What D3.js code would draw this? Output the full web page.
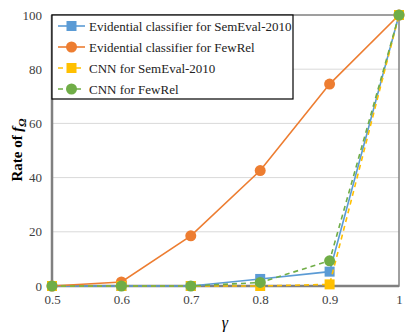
<!DOCTYPE html>
<html><head><meta charset="utf-8">
<script src="https://cdn.jsdelivr.net/npm/d3@7"></script>
<style>body{margin:0;background:#fff}svg{display:block}</style>
</head><body>
<svg id="c" width="415" height="334"></svg>
<script>
const gammas = [0.5, 0.6, 0.7, 0.8, 0.9, 1];
const evidSem = [0, 0, 0, 2.6, 5.3, 100];
const evidFew = [0, 1.5, 18.5, 42.6, 74.5, 100];
const cnnSem = [0, 0, 0, 0, 0.6, 100];
const cnnFew = [0, 0, 0, 1.3, 9.3, 100];
const yTicks = [0, 20, 40, 60, 80, 100];
const xTickLabels = ["0.5", "0.6", "0.7", "0.8", "0.9", "1"];
const seriesNames = ["Evidential classifier for SemEval-2010", "Evidential classifier for FewRel", "CNN for SemEval-2010", "CNN for FewRel"];

const series = [
  {name: seriesNames[0], vals: evidSem, color: "#5b9bd5", shape: "square", dash: null},
  {name: seriesNames[1], vals: evidFew, color: "#ed7d31", shape: "circle", dash: null},
  {name: seriesNames[2], vals: cnnSem, color: "#ffc000", shape: "square", dash: "5,4"},
  {name: seriesNames[3], vals: cnnFew, color: "#70ad47", shape: "circle", dash: "5,4"}
];

const svg = d3.select("#c");
const L = 52, R = 399, T = 15, B = 286;
const x = d3.scaleLinear().domain([0.5, 1]).range([L, R]);
const y = d3.scaleLinear().domain([0, 100]).range([B, T]);
const font = "'Liberation Serif','Times New Roman',serif";

// gridlines
svg.append("g").selectAll("line").data(yTicks.slice(1, -1)).join("line")
  .attr("x1", L).attr("x2", R).attr("y1", d => y(d)).attr("y2", d => y(d))
  .attr("stroke", "#d9d9d9").attr("stroke-width", 1);

// frame
svg.append("rect").attr("x", L).attr("y", T).attr("width", R - L).attr("height", B - T)
  .attr("fill", "none").attr("stroke", "#808080").attr("stroke-width", 1.5);
svg.append("line").attr("x1", L).attr("x2", L).attr("y1", T).attr("y2", B).attr("stroke", "#808080").attr("stroke-width", 2.5);
svg.append("line").attr("x1", L).attr("x2", R).attr("y1", B).attr("y2", B).attr("stroke", "#808080").attr("stroke-width", 2.5);

// axes
const yAxis = d3.axisLeft(y).tickValues(yTicks).tickSize(0).tickPadding(10);
const gy = svg.append("g").attr("transform", `translate(${L},0)`).call(yAxis);
gy.select(".domain").remove();
gy.selectAll("text").attr("font-family", font).attr("font-size", 13).attr("fill", "#404040");

const xAxis = d3.axisBottom(x).tickValues(gammas).tickFormat((d, i) => xTickLabels[i]).tickSize(0).tickPadding(9);
const gx = svg.append("g").attr("transform", `translate(0,${B})`).call(xAxis);
gx.select(".domain").remove();
gx.selectAll("text").attr("font-family", font).attr("font-size", 13).attr("fill", "#404040");

// axis titles
svg.append("text").attr("x", 225).attr("y", 328).attr("text-anchor", "middle")
  .attr("font-family", font).attr("font-size", 16).attr("font-style", "italic").text("γ");
const yl = svg.append("text").attr("transform", "translate(22,150) rotate(-90)").attr("text-anchor", "middle")
  .attr("font-family", font).attr("font-size", 15).attr("font-weight", "bold");
yl.append("tspan").text("Rate of ");
yl.append("tspan").attr("font-style", "italic").text("f");
yl.append("tspan").attr("font-style", "italic").attr("font-size", 11).attr("dy", 4).text("Ω");

// lines & markers
const line = d3.line().x((d, i) => x(gammas[i])).y(d => y(d));
function marker(g, shape, color, cx, cy) {
  if (shape === "square") {
    g.append("rect").attr("x", cx - 5).attr("y", cy - 5).attr("width", 10).attr("height", 10).attr("fill", color);
  } else {
    g.append("circle").attr("cx", cx).attr("cy", cy).attr("r", 5.5).attr("fill", color);
  }
}
series.forEach(s => {
  const g = svg.append("g");
  g.append("path").attr("d", line(s.vals)).attr("fill", "none").attr("stroke", s.color)
    .attr("stroke-width", 1.6).attr("stroke-dasharray", s.dash);
  s.vals.forEach((v, i) => marker(g, s.shape, s.color, x(gammas[i]), y(v)));
});

// legend
const lg = svg.append("g");
lg.append("rect").attr("x", L).attr("y", T).attr("width", 241).attr("height", 84)
  .attr("fill", "#fff").attr("stroke", "#000").attr("stroke-width", 1.2);
series.forEach((s, i) => {
  const cy = 26 + i * 21;
  lg.append("line").attr("x1", 58).attr("x2", 85).attr("y1", cy).attr("y2", cy)
    .attr("stroke", s.color).attr("stroke-width", 1.6).attr("stroke-dasharray", s.dash ? "5,4" : null);
  marker(lg, s.shape, s.color, 71.5, cy);
  lg.append("text").attr("x", 89).attr("y", cy + 4.5).attr("font-family", font).attr("font-size", 13)
    .attr("fill", "#222").text(s.name);
});
</script>
</body></html>
